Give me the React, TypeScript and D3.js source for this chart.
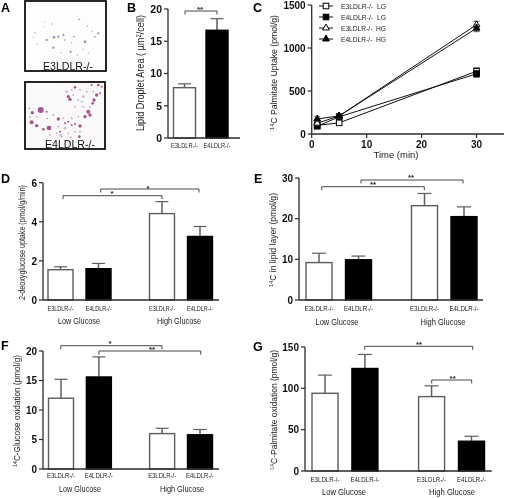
import React from "react";
import * as d3 from "d3";

const FONT = "'Liberation Sans', Arial, sans-serif";
const GENOTYPES = ["E3LDLR-/-", "E4LDLR-/-"];
const GROUPS = ["Low Glucose", "High Glucose"];

// Bar panels: means and upper error limits
const bMeans = [7.8, 16.7];
const bUpper = [8.4, 18.5];
const dMeans = [1.55, 1.6, 4.42, 3.25];
const dUpper = [1.7, 1.87, 5.03, 3.76];
const eMeans = [9.2, 9.9, 23.2, 20.5];
const eUpper = [11.5, 10.8, 26.2, 22.9];
const fMeans = [12, 15.6, 6, 5.8];
const fUpper = [15.2, 19, 6.9, 6.7];
const gMeans = [94, 124, 90, 36];
const gUpper = [116, 141, 103, 42];

// Panel C
const cTimes = [1, 5, 30];
const cNames = ["E3LDLR-/-  LG", "E4LDLR-/-  LG", "E3LDLR-/-  HG", "E4LDLR-/-  HG"];
const cE3LG = [100, 130, 730];
const cE4LG = [90, 200, 700];
const cE3HG = [125, 210, 1270];
const cE4HG = [175, 210, 1230];
const cErr = [25, 25, 40];

// Panel A micrograph blobs (x, y, r) in 3x image units
const blobsE3 = [[155,72,2.5],[130,80,1.5],[105,98,2],[140,120,3.5],[162,112,4],[175,110,3.5],[190,105,3.5],[222,110,2.5],[255,125,4.5],[295,100,3.5],[285,110,2.5],[212,155,3.5],[160,143,3.5],[112,133,2],[238,58,2.5],[262,78,2],[275,95,2],[183,158,2],[232,165,2],[265,160,2],[195,120,2.5],[100,112,1.5],[215,128,2],[250,148,2],[135,65,1.5]];
const blobsE4 = [[122,330,9],[97,338,5],[95,367,6],[110,377,5],[130,388,4],[147,384,7],[175,357,5],[140,335,3],[142,355,2],[205,290,5],[210,298,5],[225,262,4],[275,255,3],[295,255,4],[305,260,3],[290,285,5],[282,300,5],[278,310,4],[265,335,6],[255,350,5],[270,345,5],[250,320,2],[240,378,5],[238,410,4],[205,365,3],[195,370,3],[180,395,3],[185,410,2],[215,375,3],[225,372,3],[175,380,2],[88,325,2],[160,345,2],[300,280,3]];
const paleE4 = [[200,275,4],[240,270,3],[250,290,4],[235,300,3],[225,320,3],[260,275,3],[195,385,4],[205,400,3],[225,395,3],[170,400,3],[190,355,3],[215,355,3],[235,350,3],[240,395,3],[220,285,3],[280,275,3],[110,350,3],[90,350,3],[150,405,3],[270,320,3],[182,405,4],[212,412,3],[245,305,3],[215,270,3]];

const DARK = "#2b2b2b";
const GREY = "#5c5c5c";

function Ticks({ x, y, ticks, size }: any) {
  return (
    <g>
      {ticks.map((t: number) => (
        <g key={t}>
          <line x1={x - 4} x2={x} y1={y(t)} y2={y(t)} stroke={DARK} strokeWidth={1.2} />
          <text x={x - 6} y={y(t) + 3.8} textAnchor="end" fontSize={size} fontWeight="bold" fill="#111">{t}</text>
        </g>
      ))}
    </g>
  );
}

function YTitle({ x, top, bottom, sup, pre, text, size = 9.5 }: any) {
  const c = (top + bottom) / 2;
  return (
    <text transform={`translate(${x},${c}) rotate(-90)`} textAnchor="middle" fontSize={size} fill="#222"
      textLength={bottom - top} lengthAdjust="spacingAndGlyphs">
      {pre}
      {sup ? <tspan fontSize={size * 0.65} dy={-3}>{sup}</tspan> : null}
      <tspan dy={sup ? 3 : 0}>{text}</tspan>
    </text>
  );
}

function Bracket({ b }: any) {
  const [x1, x2, y, lx, ly, label] = b;
  const path = d3.path();
  path.moveTo(x1, y + 3.5);
  path.lineTo(x1, y);
  path.lineTo(x2, y);
  path.lineTo(x2, y + 3.5);
  return (
    <g>
      <path d={path.toString()} fill="none" stroke="#333" strokeWidth={0.9} />
      <text x={lx} y={ly + 3.5} textAnchor="middle" fontSize={8} fontWeight="bold" fill="#222">{label}</text>
    </g>
  );
}

function BarPanel({ p }: any) {
  const y = d3.scaleLinear().domain([0, p.max]).range([p.y0, p.yTop]);
  const x = d3.scaleLinear().domain([0, 1]).range([p.c0, p.c1]);
  return (
    <g>
      {p.means.map((m: number, i: number) => {
        const cx = x(p.slots[i]);
        const fill = i % 2 === 0 ? "#fff" : "#000";
        const stroke = i % 2 === 0 ? GREY : "#000";
        const errColor = "#5f5f5f";
        return (
          <g key={i}>
            <line x1={cx} x2={cx} y1={y(m)} y2={y(p.upper[i])} stroke={errColor} strokeWidth={1.5} />
            <line x1={cx - p.cap} x2={cx + p.cap} y1={y(p.upper[i])} y2={y(p.upper[i])} stroke={errColor} strokeWidth={1.2} />
            <rect x={cx - p.bw / 2} y={y(m)} width={p.bw} height={p.y0 - y(m)} fill={fill} stroke={stroke} strokeWidth={1.4} />
            <text x={cx} y={p.catY} textAnchor="middle" fontSize={p.catSize} fill="#222"
              textLength={p.catW} lengthAdjust="spacingAndGlyphs">{GENOTYPES[i % 2]}</text>
          </g>
        );
      })}
      <line x1={p.ax} x2={p.ax} y1={p.yTop} y2={p.y0} stroke={DARK} strokeWidth={1.3} />
      <line x1={p.ax} x2={p.xEnd} y1={p.y0} y2={p.y0} stroke={DARK} strokeWidth={1.3} />
      <Ticks x={p.ax} y={y} ticks={p.ticks} size={p.tickSize} />
      <YTitle {...p.title} />
      {p.groups && p.groups.map((g: any, i: number) => (
        <text key={i} x={g[0]} y={p.groupY} textAnchor="middle" fontSize={9.5} fill="#222"
          textLength={g[1]} lengthAdjust="spacingAndGlyphs">{GROUPS[i]}</text>
      ))}
      {p.brackets.map((b: any, i: number) => <Bracket key={i} b={b} />)}
    </g>
  );
}

const SLOTS4 = [0, 1 / 3.67, 2.67 / 3.67, 1];

const panels = [
  { means: bMeans, upper: bUpper, max: 20, y0: 138, yTop: 9, c0: 184.5, c1: 217, slots: [0, 1], bw: 22, cap: 6.5,
    ax: 168, xEnd: 240, ticks: [0, 5, 10, 15, 20], tickSize: 10.5, catY: 148, catSize: 7, catW: 27,
    title: { x: 144, top: 15, bottom: 131, pre: "Lipid Droplet Area ( µm", sup: "2", text: "/cell)", size: 10 },
    brackets: [[185, 217, 11, 200, 8, "**"]] },
  { means: dMeans, upper: dUpper, max: 6, y0: 300, yTop: 182.7, c0: 60.5, c1: 200, slots: SLOTS4, bw: 25, cap: 6.5,
    ax: 43, xEnd: 219, ticks: [0, 2, 4, 6], tickSize: 10, catY: 311, catSize: 7.5, catW: 26, groupY: 324,
    groups: [[79, 42], [179, 44]],
    title: { x: 25, top: 185, bottom: 300, pre: "", text: "2-deoxyglucose uptake (pmol/g/min)" },
    brackets: [[63, 162, 195.7, 112, 192.5, "*"], [100.7, 199, 189, 148, 187, "*"]] },
  { means: eMeans, upper: eUpper, max: 30, y0: 300, yTop: 178, c0: 319, c1: 464, slots: SLOTS4, bw: 26, cap: 7,
    ax: 299, xEnd: 483, ticks: [0, 10, 20, 30], tickSize: 10, catY: 311, catSize: 7.5, catW: 29, groupY: 325,
    groups: [[337, 43], [443, 45]],
    title: { x: 276, top: 193, bottom: 287, pre: "", sup: "14", text: "C in lipid layer (pmol/g)" },
    brackets: [[321.7, 424.3, 186.7, 373, 183, "**"], [361, 463, 180, 411, 176.5, "**"]] },
  { means: fMeans, upper: fUpper, max: 20, y0: 469, yTop: 351, c0: 61, c1: 200, slots: SLOTS4, bw: 25, cap: 6.5,
    ax: 43, xEnd: 219, ticks: [0, 5, 10, 15, 20], tickSize: 10, catY: 478, catSize: 7.5, catW: 28, groupY: 492,
    groups: [[80, 42], [182, 44]],
    title: { x: 20, top: 355, bottom: 467, pre: "", sup: "14", text: "C-Glucose oxidation (pmol/g)" },
    brackets: [[60.7, 162, 345.7, 110, 342, "*"], [99, 200.7, 351, 152, 348, "**"]] },
  { means: gMeans, upper: gUpper, max: 150, y0: 471, yTop: 347, c0: 325, c1: 471.5, slots: SLOTS4, bw: 26, cap: 7,
    ax: 305, xEnd: 491.7, ticks: [0, 50, 100, 150], tickSize: 10, catY: 482, catSize: 7.5, catW: 29, groupY: 495,
    groups: [[344, 44], [452, 46]],
    title: { x: 277, top: 350, bottom: 470, pre: "", sup: "14", text: "C-Palmitate oxidation (pmol/g)" },
    brackets: [[364.7, 472.7, 346.3, 419, 343.5, "**"], [431.7, 471.7, 380, 452.7, 377.5, "**"]] },
];

const panelLetters: [string, number, number][] = [
  ["A", 1, 12], ["B", 127, 12], ["C", 253, 12], ["D", 1, 183], ["E", 254, 183], ["F", 1, 350], ["G", 253, 351],
];

function Marker({ i, x, y }: any) {
  const fill = i % 2 === 0 ? "#fff" : "#000";
  if (i < 2) return <rect x={x - 2.8} y={y - 2.8} width={5.6} height={5.6} fill={fill} stroke="#000" strokeWidth={1} />;
  const tri = d3.symbol(d3.symbolTriangle, 20)() as string;
  return <path d={tri} transform={`translate(${x},${y})`} fill={fill} stroke="#000" strokeWidth={1} />;
}

function PanelC() {
  const x = d3.scaleLinear().domain([0, 35]).range([311.7, 504]);
  const y = d3.scaleLinear().domain([0, 1500]).range([134, 5]);
  const series = [cE3LG, cE4LG, cE3HG, cE4HG];
  const line = d3.line<number>().x((_, i) => x(cTimes[i])).y((d) => y(d));
  return (
    <g>
      {series.map((s, i) => (
        <g key={i}>
          <path d={line(s) as string} fill="none" stroke="#111" strokeWidth={1} />
          {s.map((v, j) => (
            <g key={j}>
              <line x1={x(cTimes[j])} x2={x(cTimes[j])} y1={y(v - cErr[j])} y2={y(v + cErr[j])} stroke="#444" strokeWidth={0.9} />
              <line x1={x(cTimes[j]) - 3} x2={x(cTimes[j]) + 3} y1={y(v + cErr[j])} y2={y(v + cErr[j])} stroke="#444" strokeWidth={0.9} />
              <line x1={x(cTimes[j]) - 3} x2={x(cTimes[j]) + 3} y1={y(v - cErr[j])} y2={y(v - cErr[j])} stroke="#444" strokeWidth={0.9} />
            </g>
          ))}
          {s.map((v, j) => <Marker key={j} i={i} x={x(cTimes[j])} y={y(v)} />)}
        </g>
      ))}
      <line x1={311.7} x2={311.7} y1={5} y2={134} stroke={DARK} strokeWidth={1.3} />
      <line x1={311.7} x2={504} y1={134} y2={134} stroke={DARK} strokeWidth={1.3} />
      <Ticks x={311.7} y={y} ticks={[0, 500, 1000, 1500]} size={10} />
      {[0, 10, 20, 30].map((t) => (
        <g key={t}>
          <line x1={x(t)} x2={x(t)} y1={134} y2={138} stroke={DARK} strokeWidth={1.2} />
          <text x={x(t)} y={148} textAnchor="middle" fontSize={10} fontWeight="bold" fill="#111">{t}</text>
        </g>
      ))}
      <text x={396} y={158} textAnchor="middle" fontSize={9.5} fill="#222">Time (min)</text>
      <YTitle x={277} top={15} bottom={130} pre="" sup="14" text="C Palmitate Uptake (pmol/g)" />
      {cNames.map((n, i) => {
        const ly = 6 + i * 11;
        return (
          <g key={n}>
            <line x1={319} x2={333} y1={ly} y2={ly} stroke="#111" strokeWidth={1} />
            <Marker i={i} x={326} y={ly} />
            <text x={341} y={ly + 2.8} fontSize={8} fill="#222" xmlSpace="preserve"
              textLength={45} lengthAdjust="spacingAndGlyphs">{n}</text>
          </g>
        );
      })}
    </g>
  );
}

function PanelA() {
  const s = d3.scaleLinear().domain([0, 750]).range([0, 250]);
  return (
    <g>
      <rect x={25} y={1} width={81} height={70} fill="#fdfdfb" stroke="#111" strokeWidth={1.8} />
      {blobsE3.map((b, i) => <circle key={i} cx={s(b[0])} cy={s(b[1])} r={s(b[2])} fill="#a596c0" />)}
      <text x={68} y={70} textAnchor="middle" fontSize={10.5} fill="#111" textLength={50} lengthAdjust="spacingAndGlyphs">E3LDLR-/-</text>
      <rect x={25} y={82} width={80} height={67} fill="#fbf8f9" stroke="#111" strokeWidth={1.8} />
      {paleE4.map((b, i) => <circle key={i} cx={s(b[0])} cy={s(b[1])} r={s(b[2])} fill="#cdb6d2" />)}
      {blobsE4.map((b, i) => <circle key={i} cx={s(b[0])} cy={s(b[1])} r={s(b[2])} fill="#a2588f" />)}
      <text x={70} y={148} textAnchor="middle" fontSize={10.5} fill="#111" textLength={50} lengthAdjust="spacingAndGlyphs">E4LDLR-/-</text>
    </g>
  );
}

export default function App() {
  return (
    <svg width={505} height={498} viewBox="0 0 505 498" fontFamily={FONT}
      style={{ position: "fixed", left: 0, top: 0, background: "#fff" }}>
      <defs>
        <filter id="soft" x="0" y="0" width="100%" height="100%" filterUnits="userSpaceOnUse">
          <feGaussianBlur stdDeviation="0.35" />
        </filter>
      </defs>
      <g filter="url(#soft)">
        <rect x={0} y={0} width={505} height={498} fill="#fff" />
        <PanelA />
        <PanelC />
        {panels.map((p, i) => <BarPanel key={i} p={p} />)}
        {panelLetters.map(([l, x, y]) => (
          <text key={l} x={x} y={y} fontSize={12.5} fontWeight="bold" fill="#000">{l}</text>
        ))}
      </g>
    </svg>
  );
}
